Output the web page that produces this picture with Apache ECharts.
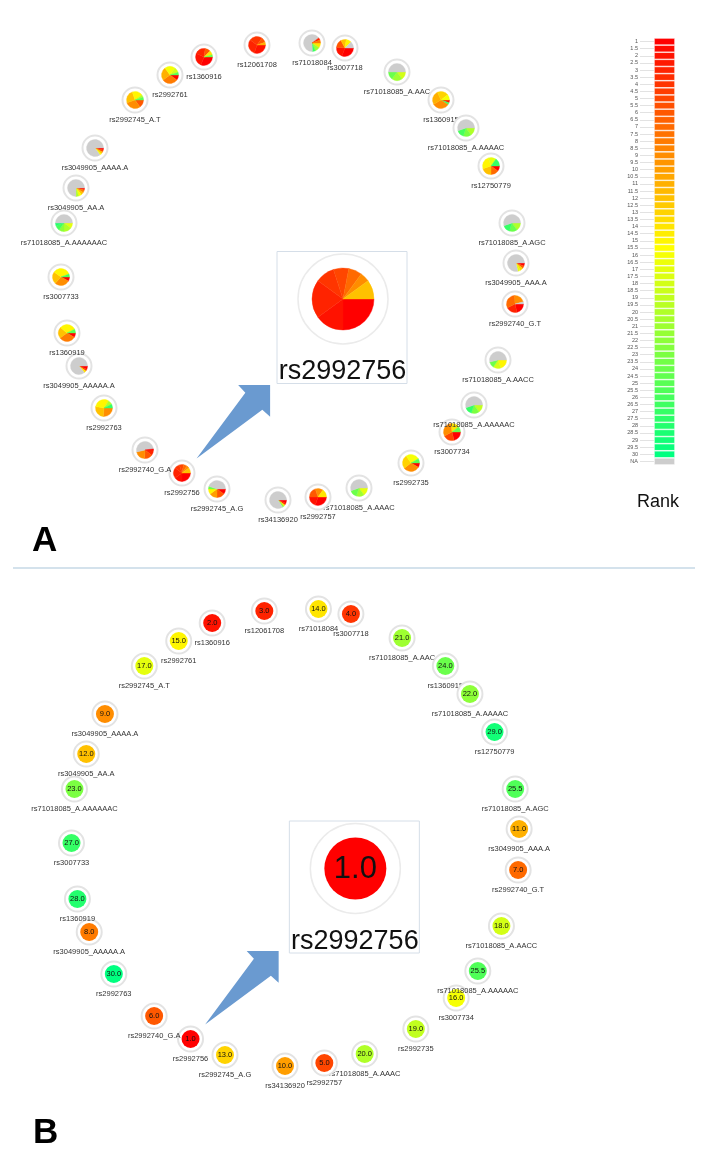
<!DOCTYPE html>
<html>
<head>
<meta charset="utf-8">
<script src="https://cdn.jsdelivr.net/npm/echarts@6/dist/echarts.min.js"></script>
<style>
html, body { margin: 0; padding: 0; background: #fff; }
#main { width: 709px; height: 1168px; }
</style>
</head>
<body>
<div id="main"></div>
<script>
// node layout (same layout used for both panels)
var nodeNames = ['rs12061708', 'rs71018084', 'rs3007718', 'rs71018085_A.AAC', 'rs1360915',
    'rs71018085_A.AAAAC', 'rs12750779', 'rs71018085_A.AGC', 'rs3049905_AAA.A', 'rs2992740_G.T',
    'rs71018085_A.AACC', 'rs3007734', 'rs71018085_A.AAAAAC', 'rs2992735', 'rs71018085_A.AAAC',
    'rs2992757', 'rs34136920', 'rs2992745_A.G', 'rs2992756', 'rs2992740_G.A',
    'rs2992763', 'rs3049905_AAAAA.A', 'rs1360919', 'rs3007733', 'rs71018085_A.AAAAAAC',
    'rs3049905_AA.A', 'rs3049905_AAAA.A', 'rs2992745_A.T', 'rs2992761', 'rs1360916'];
var nodeX = [257, 312, 345, 397, 441, 466, 491, 512, 516, 515,
    498, 452, 474, 411, 359, 318, 278, 217, 182, 145,
    104, 79, 67, 61, 64, 76, 95, 135, 170, 204];
var nodeY = [45, 43, 48, 72, 100, 128, 166, 223, 263, 304,
    360, 432, 405, 463, 488, 497, 500, 489, 473, 450,
    408, 366, 333, 277, 223, 188, 148, 100, 75, 57];
// mean rank (panel B)
var meanRank = [3, 14, 4, 21, 24, 22, 29, 25.5, 11, 7,
    18, 16, 25.5, 19, 20, 5, 10, 13, 1, 6,
    30, 8, 28, 27, 23, 12, 9, 17, 15, 2];
// per-dataset ranks for the pies of panel A: [rank, share], null = NA
var pieSlices = [
    [[2, 3], [3, 3], [4, 2.5], [6, 1], [11, 0.5]],
    [[14, 1], [21, 1], [27, 0.6], [null, 7], [3, 0.5], [8, 0.6]],
    [[1, 3], [2, 2], [6, 1.5], [12, 1], [15, 1], [null, 1.2]],
    [[18, 1.5], [21, 2], [24, 1.5], [null, 5]],
    [[2, 0.5], [26, 0.4], [9, 3], [11, 2.5], [13, 2], [16, 1]],
    [[20, 1.5], [23, 1.5], [26, 1.5], [null, 5.5]],
    [[1, 1], [7, 1.5], [12, 2], [15, 2.5], [17, 1.5], [27, 1.5]],
    [[20, 1.5], [24, 1.5], [27, 1.5], [null, 5.5]],
    [[1, 0.6], [6, 0.5], [13, 0.6], [17, 0.5], [null, 8]],
    [[1, 2], [3, 2], [7, 3], [9, 2], [null, 0.4]],
    [[15, 2], [18, 1.5], [24, 1.2], [null, 5.5]],
    [[1, 2], [5, 2], [9, 3], [14, 1.5], [24, 1]],
    [[19, 1.5], [23, 1.5], [27, 1.5], [null, 5.5]],
    [[1, 0.8], [9, 3], [13, 2.5], [16, 2.5], [25, 0.8]],
    [[17, 1.5], [21, 1.5], [24, 1.5], [null, 5.5]],
    [[1, 3], [2, 2], [6, 2], [9, 1.5], [14, 1.5]],
    [[1, 0.6], [3, 0.4], [14, 0.3], [23, 0.3], [null, 8.4]],
    [[1, 1], [6, 1.5], [10, 1.5], [15, 1], [24, 0.5], [null, 4.5]],
    [[1, 2.5], [2, 1.5], [3, 2], [4, 1], [5, 0.8], [7, 0.7], [9, 0.5], [12, 1]],
    [[3, 1], [6, 1.5], [9, 2], [null, 5], [1, 0.2]],
    [[9, 2.5], [12, 2.5], [15, 3], [20, 0.8], [27, 0.7]],
    [[1, 0.6], [4, 0.4], [14, 0.4], [null, 8.6]],
    [[1, 0.8], [8, 3], [12, 2], [15, 3], [25, 0.7]],
    [[1, 0.7], [9, 2.5], [12, 2], [15, 3], [26, 0.5]],
    [[17, 1], [20, 1.5], [22, 1], [26, 1], [28, 0.5], [null, 5]],
    [[2, 0.4], [8, 0.5], [12, 0.5], [16, 0.6], [20, 0.5], [null, 7.5]],
    [[1, 0.4], [5, 0.4], [12, 0.4], [16, 0.3], [null, 8.5]],
    [[6, 1.5], [9, 3], [12, 2.5], [15, 2], [20, 0.5], [25, 0.5]],
    [[1, 1], [8, 3], [11, 2.5], [16, 2], [18, 1], [25, 0.5]],
    [[1, 3], [2, 2.5], [3, 2], [6, 1], [14, 0.8], [24, 0.4]]
];
// zoomed node and where its box sits in the layout
var insetNode = 'rs2992756';
var insetPosA = [342, 317.5];
var insetPosB = [348.5, 321];
// colour key
var legendLabels = ['1', '1.5', '2', '2.5', '3', '3.5', '4', '4.5', '5', '5.5', '6', '6.5', '7', '7.5',
    '8', '8.5', '9', '9.5', '10', '10.5', '11', '11.5', '12', '12.5', '13', '13.5', '14', '14.5',
    '15', '15.5', '16', '16.5', '17', '17.5', '18', '18.5', '19', '19.5', '20', '20.5', '21', '21.5',
    '22', '22.5', '23', '23.5', '24', '24.5', '25', '25.5', '26', '26.5', '27', '27.5', '28', '28.5',
    '29', '29.5', '30', 'NA'];

var FONT = 'Liberation Sans';

function rankColor(r) {
    if (r === null || isNaN(r)) {
        return '#cdcdcd';
    }
    var t, c;
    if (r <= 15.5) {
        t = (r - 1) / 14.5;
        c = [255, 255 * t, 0];
    } else {
        t = (r - 15.5) / 14.5;
        c = [255 * (1 - t), 255, 128 * t];
    }
    return 'rgb(' + Math.round(c[0]) + ',' + Math.round(c[1]) + ',' + Math.round(c[2]) + ')';
}

function pieShapes(slices, cx, cy, r) {
    var total = 0;
    slices.forEach(function (d) { total += d[1]; });
    var a = 0, out = [];
    slices.forEach(function (d) {
        var b = a + d[1] / total * Math.PI * 2;
        var col = rankColor(d[0]);
        out.push({
            type: 'sector',
            shape: {cx: cx, cy: cy, r0: 0, r: r, startAngle: a, endAngle: b, clockwise: true},
            style: {fill: col, stroke: col, lineWidth: 0.4}
        });
        a = b;
    });
    return out;
}

function nodeItem(panel) {
    return function (params, api) {
        var i = params.dataIndex;
        var p = api.coord([api.value(0), api.value(1)]);
        var children = [{
            type: 'circle',
            shape: {cx: p[0], cy: p[1], r: 12.5},
            style: {fill: '#fff', stroke: '#e3e3e3', lineWidth: 2}
        }];
        if (panel === 'A') {
            children = children.concat(pieShapes(pieSlices[i], p[0], p[1], 8.5));
        } else {
            children.push({
                type: 'circle',
                shape: {cx: p[0], cy: p[1], r: 9},
                style: {fill: rankColor(meanRank[i])}
            });
            children.push({
                type: 'text', x: p[0], y: p[1],
                style: {text: meanRank[i].toFixed(1), fontSize: 7.5, fontFamily: FONT,
                    fill: '#111', align: 'center', verticalAlign: 'middle'}
            });
        }
        children.push({
            type: 'text', x: p[0], y: p[1] + 19.5,
            style: {text: nodeNames[i], fontSize: 7.5, fontFamily: FONT,
                fill: '#333', align: 'center', verticalAlign: 'middle'}
        });
        return {type: 'group', children: children};
    };
}

function insetItem(panel) {
    return function (params, api) {
        var c = api.coord([api.value(0), api.value(1)]);
        var k = nodeNames.indexOf(insetNode);
        var n = api.coord([nodeX[k], nodeY[k]]);
        // block arrow from the node up to the zoom box
        var u = [Math.SQRT1_2, -Math.SQRT1_2], v = [Math.SQRT1_2, Math.SQRT1_2];
        var t0 = [n[0] + u[0] * 20.6, n[1] + u[1] * 20.6], L = 104;
        function pt(a, b) { return [t0[0] + u[0] * a + v[0] * b, t0[1] + u[1] * a + v[1] * b]; }
        var arrow = {
            type: 'polygon',
            shape: {points: [pt(0, 0), pt(L - 23, -12), pt(L - 22.6, -22.6), pt(L, 0),
                pt(L - 22.6, 22.6), pt(L - 23, 12)]},
            style: {fill: '#6a9ad0'}
        };
        var cx = c[0] + 1, cy = c[1] - 18.5;
        var children = [arrow, {
            type: 'rect',
            shape: {x: c[0] - 65, y: c[1] - 66, width: 130, height: 132},
            style: {fill: '#fff', stroke: '#d5dee8', lineWidth: 1}
        }, {
            type: 'circle',
            shape: {cx: cx, cy: cy, r: 45},
            style: {fill: '#fff', stroke: '#ebebeb', lineWidth: 1.5}
        }];
        if (panel === 'A') {
            children = children.concat(pieShapes(pieSlices[k], cx, cy, 31));
        } else {
            children.push({
                type: 'circle',
                shape: {cx: cx, cy: cy, r: 31},
                style: {fill: rankColor(meanRank[k])}
            });
            children.push({
                type: 'text', x: cx, y: cy + 1,
                style: {text: meanRank[k].toFixed(1), fontSize: 31, fontFamily: FONT,
                    fill: '#111', align: 'center', verticalAlign: 'middle'}
            });
        }
        children.push({
            type: 'text', x: c[0] + 0.5, y: c[1] + 54.5,
            style: {text: insetNode, fontSize: 27, fontFamily: FONT,
                fill: '#111', align: 'center', verticalAlign: 'middle'}
        });
        return {type: 'group', children: children};
    };
}

var nodeData = nodeX.map(function (x, i) { return [x, nodeY[i]]; });

var chart = echarts.init(document.getElementById('main'));
chart.setOption({
    animation: false,
    backgroundColor: '#fff',
    grid: [
        {left: 0, top: 0, width: 709, height: 560},
        {left: 11.5, top: 566, width: 709, height: 560},
        {left: 654, top: 38, width: 21, height: 427}
    ],
    xAxis: [
        {gridIndex: 0, type: 'value', min: 0, max: 709, show: false},
        {gridIndex: 1, type: 'value', min: 0, max: 709, show: false},
        {gridIndex: 2, type: 'value', min: 0, max: 1, show: false}
    ],
    yAxis: [
        {gridIndex: 0, type: 'value', min: 0, max: 560, inverse: true, show: false},
        {gridIndex: 1, type: 'value', min: 0, max: 560, inverse: true, show: false},
        {
            gridIndex: 2, type: 'category', data: legendLabels, inverse: true,
            axisLine: {show: false},
            axisTick: {show: true, length: 14, alignWithLabel: true, lineStyle: {color: '#e2e2e2'}},
            axisLabel: {fontSize: 5.5, color: '#555', margin: 16, interval: 0, fontFamily: FONT}
        }
    ],
    graphic: [
        {type: 'text', left: 32, top: 524, style: {text: 'A', font: 'bold 35px "Liberation Sans"', fill: '#000'}},
        {type: 'text', left: 33, top: 1116, style: {text: 'B', font: 'bold 35px "Liberation Sans"', fill: '#000'}},
        {type: 'text', left: 637, top: 493, style: {text: 'Rank', font: '18px "Liberation Sans"', fill: '#111'}},
        {type: 'line', shape: {x1: 13, y1: 568, x2: 695, y2: 568}, style: {stroke: '#c6d8e6', lineWidth: 1.5}}
    ],
    series: [
        {type: 'custom', name: 'insetA', xAxisIndex: 0, yAxisIndex: 0, z: 2,
            data: [insetPosA], encode: {x: 0, y: 1}, renderItem: insetItem('A')},
        {type: 'custom', name: 'nodesA', xAxisIndex: 0, yAxisIndex: 0, z: 3,
            data: nodeData, encode: {x: 0, y: 1}, renderItem: nodeItem('A')},
        {type: 'custom', name: 'insetB', xAxisIndex: 1, yAxisIndex: 1, z: 2,
            data: [insetPosB], encode: {x: 0, y: 1}, renderItem: insetItem('B')},
        {type: 'custom', name: 'nodesB', xAxisIndex: 1, yAxisIndex: 1, z: 3,
            data: nodeData, encode: {x: 0, y: 1}, renderItem: nodeItem('B')},
        {
            type: 'bar', name: 'key', xAxisIndex: 2, yAxisIndex: 2, barWidth: '100%',
            data: legendLabels.map(function (l) {
                return {value: 1, itemStyle: {color: rankColor(l === 'NA' ? null : parseFloat(l))}};
            }),
            itemStyle: {borderColor: '#fff', borderWidth: 0.6}
        }
    ]
});
</script>
</body>
</html>
